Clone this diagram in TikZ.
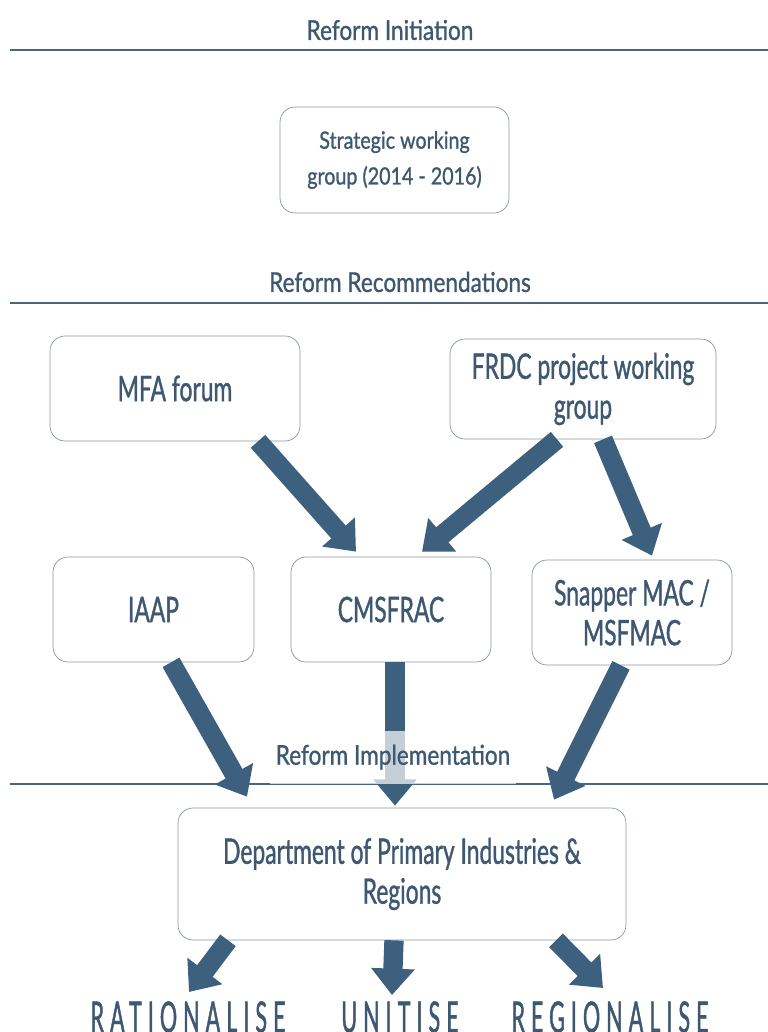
\documentclass[tikz,border=0pt]{standalone}
\usepackage{fontspec}
\setmainfont{Lato}
\newfontfamily\headfont{Lato}[FakeStretch=0.83, FakeBold=1]
\newfontfamily\boxfont{Lato}[FakeStretch=0.65, FakeBold=1]
\newfontfamily\outfont{Lato}[FakeStretch=0.5, FakeBold=1, LetterSpace=14]
\usetikzlibrary{arrows.meta,calc}
\definecolor{slate}{HTML}{3E607F}
\definecolor{inkblue}{HTML}{3D5870}
\definecolor{rulecol}{HTML}{4B667C}
\definecolor{boxedge}{HTML}{8796A3}

\begin{document}
\begin{tikzpicture}[x=0.02cm,y=-0.02cm,
  stage/.style={text=inkblue, font=\headfont\fontsize{15.5}{18}\selectfont},
  box/.style={draw=boxedge, rectangle, rounded corners=0.3cm, align=center, text=inkblue, inner sep=0pt, font=\boxfont\fontsize{20}{22.7}\selectfont},
  fat/.style={draw=slate, line width=11pt, -{Triangle[width=24pt,length=15pt]}},
  rule/.style={draw=rulecol, line width=1.2pt},
  outcome/.style={text=inkblue, font=\outfont\fontsize{24.5}{26}\selectfont}]
\useasboundingbox (0,0) rectangle (768,1032);

\node[stage] (ini) at (390,30){Reform Initiation};
\draw[rule] (10,50) -- (768,50);
\node[box, minimum width=4.58cm, minimum height=2.12cm, font=\headfont\fontsize{13.5}{20.4}\selectfont] (strat) at (394.5,160){Strategic working\\group (2014 - 2016)};

\node[stage] (rec) at (400,282){Reform Recommendations};
\draw[rule] (10,303) -- (768,303);
\node[box, minimum width=5cm, minimum height=2.1cm] (mfa) at (175,388.5){MFA forum};
\node[box, minimum width=5.32cm, minimum height=2cm] (frdc) at (583,389){FRDC project working\\group};
\node[box, minimum width=4.02cm, minimum height=2.1cm] (iaap) at (153.5,609.5){IAAP};
\node[box, minimum width=4cm, minimum height=2.1cm] (cms) at (391,609.5){CMSFRAC};
\node[box, minimum width=4cm, minimum height=2.1cm] (snap) at (632,612.5){Snapper MAC /\\MSFMAC};

\draw[rule] (10,784) -- (768,784);
\node[box, minimum width=8.96cm, minimum height=2.64cm] (dpir) at (402,874){Department of Primary Industries \&\\Regions};

\node[outcome] (rat) at (188,1017){RATIONALISE};
\node[outcome] (uni) at (400,1017){UNITISE};
\node[outcome] (reg) at (610,1017){REGIONALISE};

% recommendations
\draw[fat] ($(mfa.south)+(83,0)$) -- ($(cms.north)+(-35,-5)$);
\draw[fat] ($(frdc.south)+(-26,0)$) -- ($(cms.north)+(31,-5)$);
\draw[fat] ($(frdc.south)+(20,0)$) -- ($(snap.north)+(20,-4)$);
% implementation
\draw[fat] ($(iaap.south)+(17.5,0)$) -- ($(dpir.north)+(-155,-11)$);
\draw[fat] ($(cms.south)+(4,0)$) -- ($(dpir.north)+(-7,-2)$);
\draw[fat] ($(snap.south)+(-11,0)$) -- ($(dpir.north)+(152,-8)$);
% outcomes
\draw[fat] ($(dpir.south)+(-174,0)$) -- ($(rat)+(1,-25)$);
\draw[fat] ($(dpir.south)+(-8,0)$) -- ($(uni)+(-8,-22)$);
\draw[fat] ($(dpir.south)+(154,0)$) -- ($(reg)+(-7,-29)$);

\node[stage, fill=white, fill opacity=0.7, text opacity=1, minimum height=1.06cm] (imp) at (393,757){Reform Implementation};

\end{tikzpicture}
\end{document}
